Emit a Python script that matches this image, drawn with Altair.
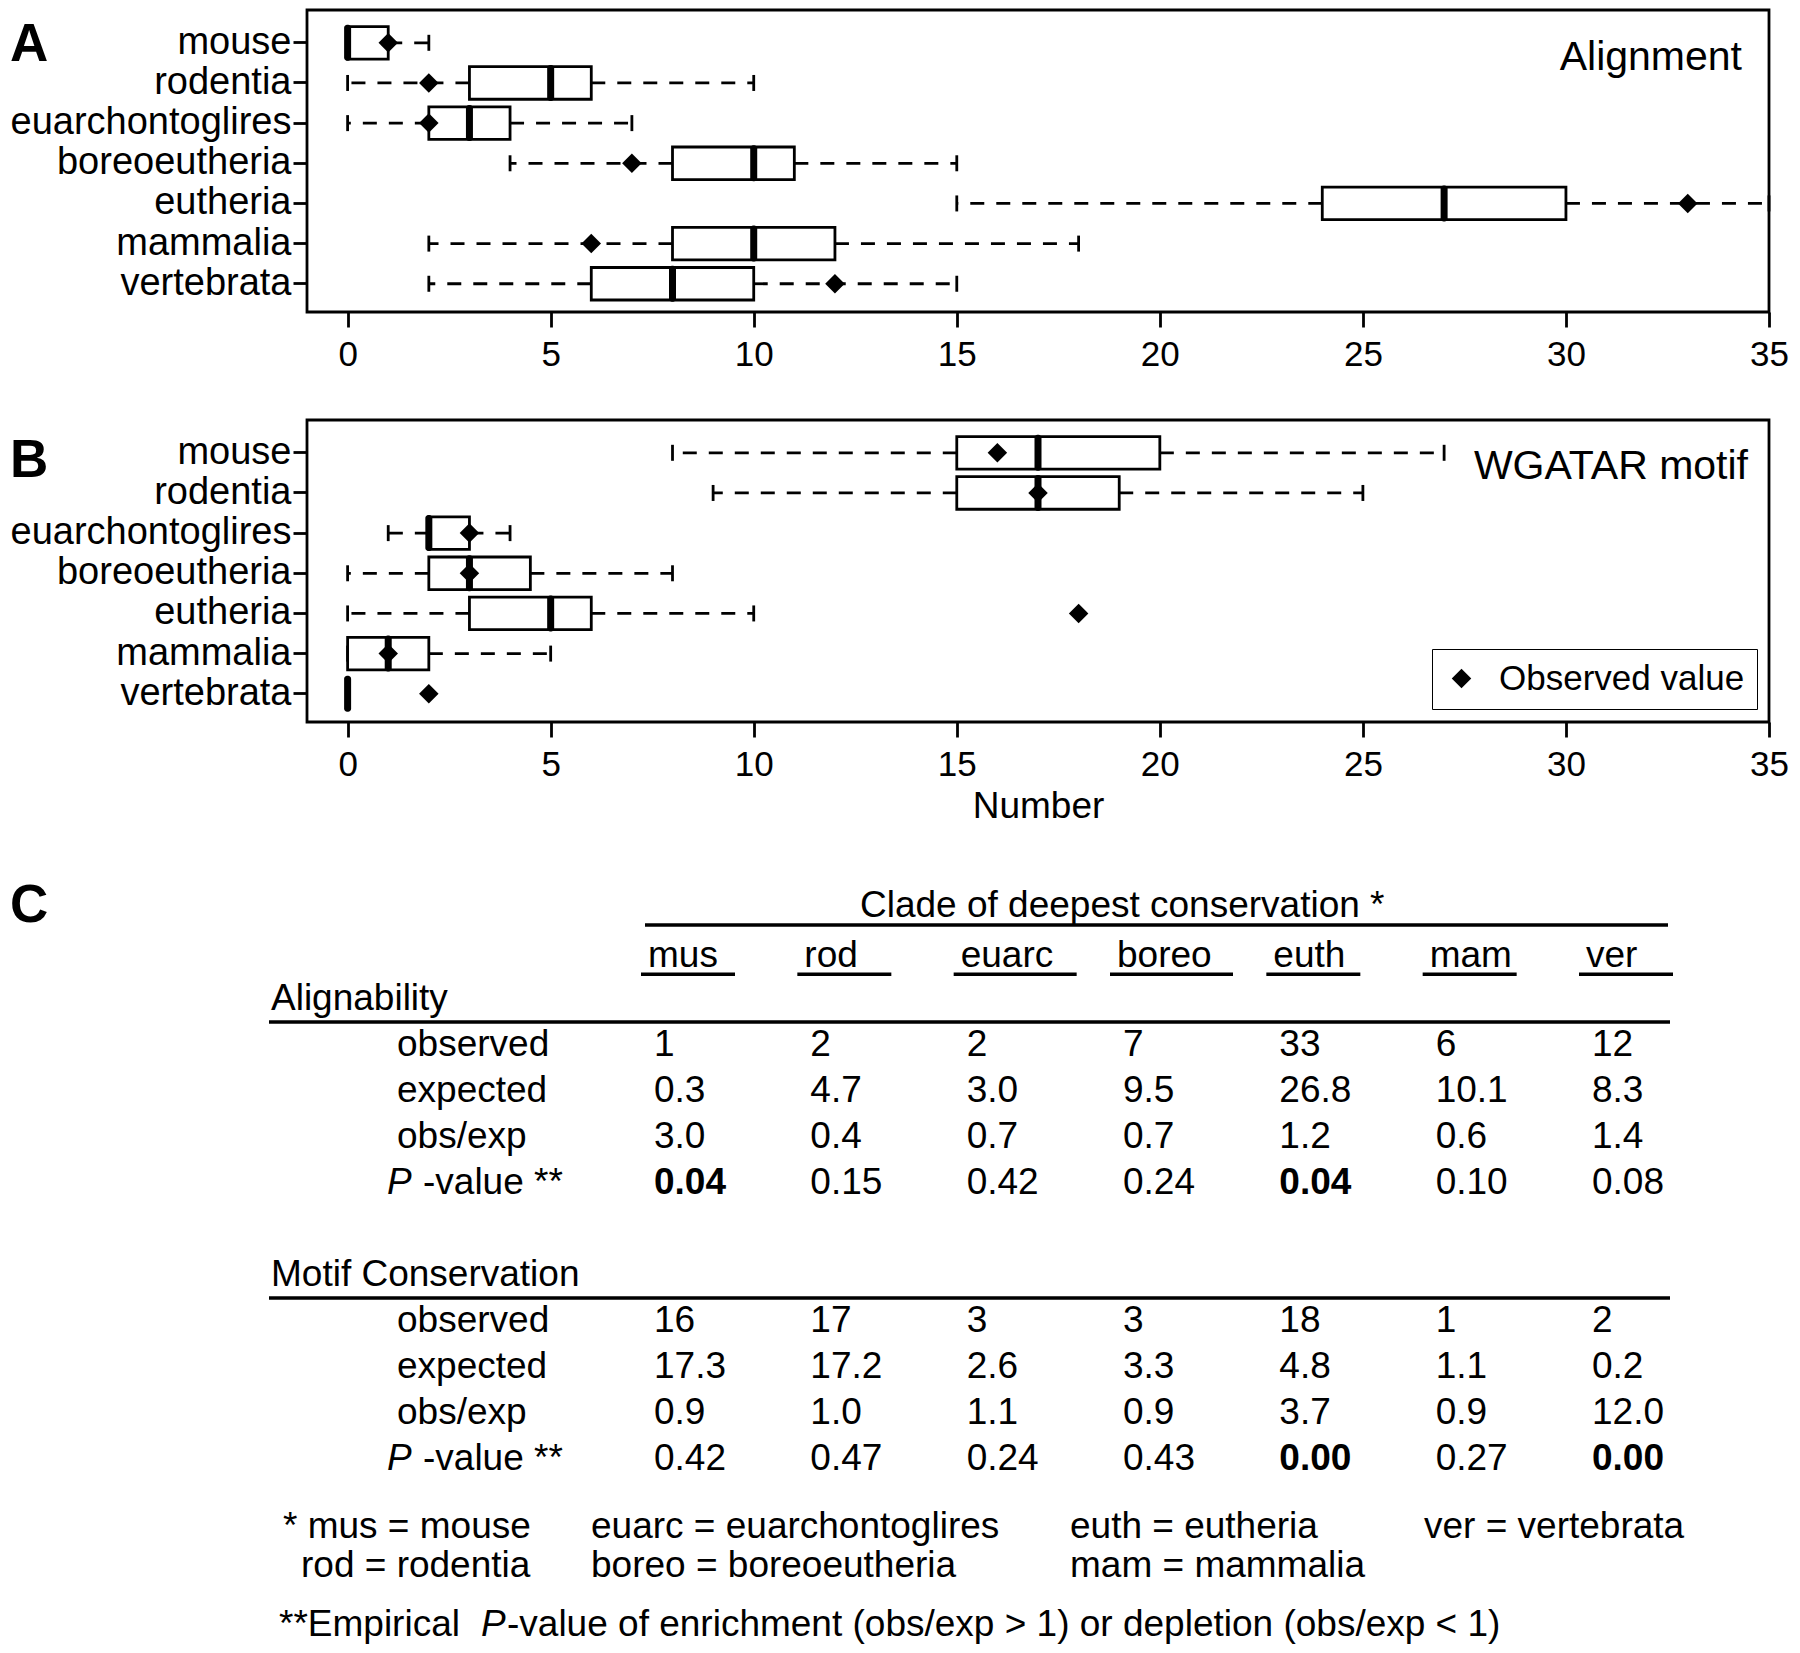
import altair as alt
import pandas as pd

FONT = "Liberation Sans"

# ---------------- data ----------------
clades = ["mouse", "rodentia", "euarchontoglires", "boreoeutheria",
          "eutheria", "mammalia", "vertebrata"]
abbr = ["mus", "rod", "euarc", "boreo", "euth", "mam", "ver"]
x_ticks = [0, 5, 10, 15, 20, 25, 30, 35]

# Panel A: Alignment (whisker low, Q1, median, Q3, whisker high, observed)
aln_lo = [0, 0, 0, 4, 15, 2, 2]
aln_q1 = [0, 3, 2, 8, 24, 8, 6]
aln_med = [0, 5, 3, 10, 27, 10, 8]
aln_q3 = [1, 6, 4, 11, 30, 12, 10]
aln_hi = [2, 10, 7, 15, 35, 18, 15]
aln_obs = [1, 2, 2, 7, 33, 6, 12]

# Panel B: WGATAR motif
mot_lo = [8, 9, 1, 0, 0, 0, 0]
mot_q1 = [15, 15, 2, 2, 3, 0, 0]
mot_med = [17, 17, 2, 3, 5, 1, 0]
mot_q3 = [20, 19, 3, 4.5, 6, 2, 0]
mot_hi = [27, 25, 4, 8, 10, 5, 0]
mot_obs = [16, 17, 3, 3, 18, 1, 2]

# Panel C table
aln_expected = ["0.3", "4.7", "3.0", "9.5", "26.8", "10.1", "8.3"]
aln_obs_exp = ["3.0", "0.4", "0.7", "0.7", "1.2", "0.6", "1.4"]
aln_pvalue = ["0.04", "0.15", "0.42", "0.24", "0.04", "0.10", "0.08"]
mot_expected = ["17.3", "17.2", "2.6", "3.3", "4.8", "1.1", "0.2"]
mot_obs_exp = ["0.9", "1.0", "1.1", "0.9", "3.7", "0.9", "12.0"]
mot_pvalue = ["0.42", "0.47", "0.24", "0.43", "0.00", "0.27", "0.00"]
row_labels = ["observed", "expected", "obs/exp"]

# ---------------- helpers ----------------
W, H = 1462, 302
LW = 2.8


def text_layer(text, x, y, size=37, weight="normal", style="normal", align="left"):
    return alt.Chart(pd.DataFrame({"t": [text]})).mark_text(
        font=FONT, fontSize=size, fontWeight=weight, fontStyle=style,
        align=align, baseline="middle", color="black"
    ).encode(text="t:N", x=alt.value(x), y=alt.value(y))


def hline(x1, x2, y, width=3.5):
    return alt.Chart(pd.DataFrame({"a": [0]})).mark_rule(
        color="black", strokeWidth=width
    ).encode(x=alt.value(x1), x2=alt.value(x2), y=alt.value(y))


def box_panel(lo, q1, med, q3, hi, obs, letter, letter_y, label, label_x, label_y,
              legend, xtitle):
    df = pd.DataFrame({"clade": clades, "lo": lo, "q1": q1, "med": med,
                       "q3": q3, "hi": hi, "obs": obs,
                       "key": ["Observed value"] * len(clades)})
    xs = alt.Scale(domain=[-1, 35], nice=False, zero=False)
    ys = alt.Scale(domain=clades, paddingInner=0.19, paddingOuter=0.355, align=0.58)
    ax_kw = dict(values=x_ticks, labelFontSize=35, labelColor="black",
                 labelFont=FONT, labelPadding=10, labelFlush=False,
                 tickSize=15, tickWidth=LW, tickColor="black",
                 domain=False, grid=False)
    if xtitle:
        xaxis = alt.Axis(title=xtitle, titleFontSize=37, titleFont=FONT,
                         titleFontWeight="normal", titleColor="black",
                         titlePadding=6, **ax_kw)
    else:
        xaxis = alt.Axis(title=None, **ax_kw)
    yaxis = alt.Axis(title=None, labelFontSize=38, labelColor="black",
                     labelFont=FONT, labelPadding=2, labelLimit=0, tickSize=14,
                     tickWidth=LW, tickColor="black", domain=False, grid=False)
    Y = alt.Y("clade:N", scale=ys, sort=clades, axis=yaxis)
    base = alt.Chart(df)

    lower = base.transform_filter("datum.lo < datum.q1").mark_rule(
        color="black", strokeWidth=LW, strokeDash=[14, 12]
    ).encode(x=alt.X("q1:Q", scale=xs, axis=xaxis), x2="lo:Q", y=Y)
    upper = base.transform_filter("datum.hi > datum.q3").mark_rule(
        color="black", strokeWidth=LW, strokeDash=[14, 12]
    ).encode(x="q3:Q", x2="hi:Q", y=Y)
    caps = base.transform_fold(["lo", "hi"], as_=["end", "val"]).mark_tick(
        color="black", thickness=LW, size=16, opacity=1
    ).encode(x="val:Q", y=Y)
    box = base.mark_bar(fill="white", stroke="black", strokeWidth=LW,
                        opacity=1).encode(x="q1:Q", x2="q3:Q", y=Y)
    median = base.mark_tick(color="black", thickness=7, size=36, opacity=1,
                            cornerRadius=3).encode(x="med:Q", y=Y)
    shape_scale = alt.Scale(domain=["Observed value"], range=["diamond"])
    if legend:
        shp = alt.Shape("key:N", scale=shape_scale, legend=alt.Legend(
            title=None, orient="none", legendX=W - 337, legendY=H - 73,
            labelFontSize=35, labelFont=FONT, labelColor="black", labelLimit=0,
            symbolSize=380, symbolType="diamond", symbolFillColor="black",
            symbolStrokeWidth=0, labelOffset=20, padding=12,
            strokeColor="black", fillColor="white"))
    else:
        shp = alt.Shape("key:N", scale=shape_scale, legend=None)
    points = base.mark_point(filled=True, color="black", size=380,
                             opacity=1).encode(x="obs:Q", y=Y, shape=shp)

    return alt.layer(
        lower, upper, caps, box, median, points,
        text_layer(letter, -297, letter_y, size=53, weight="bold"),
        text_layer(label, label_x, label_y, size=41, align="right"),
    ).properties(width=W, height=H,
                 view=alt.ViewBackground(stroke="black", strokeWidth=LW))


panel_a = box_panel(aln_lo, aln_q1, aln_med, aln_q3, aln_hi, aln_obs,
                    "A", 35, "Alignment", W - 27, 48, False, None)
panel_b = box_panel(mot_lo, mot_q1, mot_med, mot_q3, mot_hi, mot_obs,
                    "B", 41, "WGATAR motif", W - 21, 47, True, "Number")

# ---------------- panel C (table) ----------------
sections = [
    [aln_obs, aln_expected, aln_obs_exp, aln_pvalue],
    [mot_obs, mot_expected, mot_obs_exp, mot_pvalue],
]
cells = []
for s, rows in enumerate(sections):
    for m, vals in enumerate(rows):
        for c, v in zip(abbr, vals):
            txt = str(v)
            cells.append({"abbr": c, "line": 6 * s + m, "txt": txt,
                          "bold": bool(m == 3 and float(txt) <= 0.05)})
cells_df = pd.DataFrame(cells)

labels_df = pd.DataFrame([{"line": 6 * s + m, "t": lab}
                          for s in (0, 1) for m, lab in enumerate(row_labels)])
plabel_df = pd.DataFrame({"line": [3, 9]})
sect_df = pd.DataFrame({"line": [-1, 5], "t": ["Alignability", "Motif Conservation"]})
sect_rule_df = pd.DataFrame({"line": [-0.5, 5.5]})
hdr_df = pd.DataFrame({"abbr": abbr})

Y0, STEP = 174, 46


def ypix(line):
    return Y0 + STEP * line


xC = alt.Scale(type="point", domain=abbr, range=[347, 1285], padding=0)
yC = alt.Scale(domain=[0, 9], range=[ypix(0), ypix(9)], zero=False, nice=False)
XC = alt.X("abbr:N", scale=xC, sort=abbr, axis=None)
YC = alt.Y("line:Q", scale=yC, axis=None)

txt_kw = dict(font=FONT, fontSize=37, align="left", baseline="middle", color="black")

cells_normal = alt.Chart(cells_df).transform_filter("!datum.bold").mark_text(
    **txt_kw).encode(x=XC, y=YC, text="txt:N")
cells_bold = alt.Chart(cells_df).transform_filter("datum.bold").mark_text(
    fontWeight="bold", **txt_kw).encode(x=XC, y=YC, text="txt:N")
row_lab = alt.Chart(labels_df).mark_text(**txt_kw).encode(
    x=alt.value(90), y=YC, text="t:N")
p_italic = alt.Chart(plabel_df).mark_text(fontStyle="italic", **txt_kw).encode(
    x=alt.value(80), y=YC, text=alt.value("P"))
p_rest = alt.Chart(plabel_df).mark_text(**txt_kw).encode(
    x=alt.value(116), y=YC, text=alt.value("-value **"))
sect_lab = alt.Chart(sect_df).mark_text(**txt_kw).encode(
    x=alt.value(-36), y=YC, text="t:N")
sect_rules = alt.Chart(sect_rule_df).mark_rule(color="black", strokeWidth=3.5).encode(
    x=alt.value(-38), x2=alt.value(1363), y=YC)
headers = alt.Chart(hdr_df).mark_text(dx=-6, **txt_kw).encode(
    x=XC, y=alt.value(ypix(-1.93)), text="abbr:N")
ul_short = alt.Chart(hdr_df).transform_filter("length(datum.abbr) < 5").mark_rule(
    color="black", strokeWidth=3.5, xOffset=-13, x2Offset=81).encode(
    x=XC, x2="abbr:N", y=alt.value(ypix(-1.54)))
ul_long = alt.Chart(hdr_df).transform_filter("length(datum.abbr) >= 5").mark_rule(
    color="black", strokeWidth=3.5, xOffset=-13, x2Offset=110).encode(
    x=XC, x2="abbr:N", y=alt.value(ypix(-1.54)))

fn1, fn2, fn3 = 656, 695, 754
panel_c = alt.layer(
    cells_normal, cells_bold, row_lab, p_italic, p_rest, sect_lab, sect_rules,
    headers, ul_short, ul_long,
    text_layer("C", -297, ypix(-3.02), size=53, weight="bold"),
    text_layer("Clade of deepest conservation *", 553, ypix(-3.02)),
    hline(338, 1361, ypix(-2.61)),
    text_layer("* mus = mouse", -24, fn1),
    text_layer("euarc = euarchontoglires", 284, fn1),
    text_layer("euth = eutheria", 763, fn1),
    text_layer("ver = vertebrata", 1117, fn1),
    text_layer("rod = rodentia", -6, fn2),
    text_layer("boreo = boreoeutheria", 284, fn2),
    text_layer("mam = mammalia", 763, fn2),
    text_layer("**Empirical", -28, fn3),
    text_layer("P", 174, fn3, style="italic"),
    text_layer("-value of enrichment (obs/exp > 1) or depletion (obs/exp < 1)", 200, fn3),
).properties(width=W, height=740,
             view=alt.ViewBackground(stroke="transparent"))

chart = alt.vconcat(panel_a, panel_b, panel_c, spacing=44).resolve_scale(
    x="independent", y="independent", shape="independent"
).resolve_legend(shape="independent").properties(
    padding={"left": 0, "top": 0, "right": 0, "bottom": 0}
).configure(background="white")

chart.save("out.html", embed_options={"renderer": "svg", "actions": False})
